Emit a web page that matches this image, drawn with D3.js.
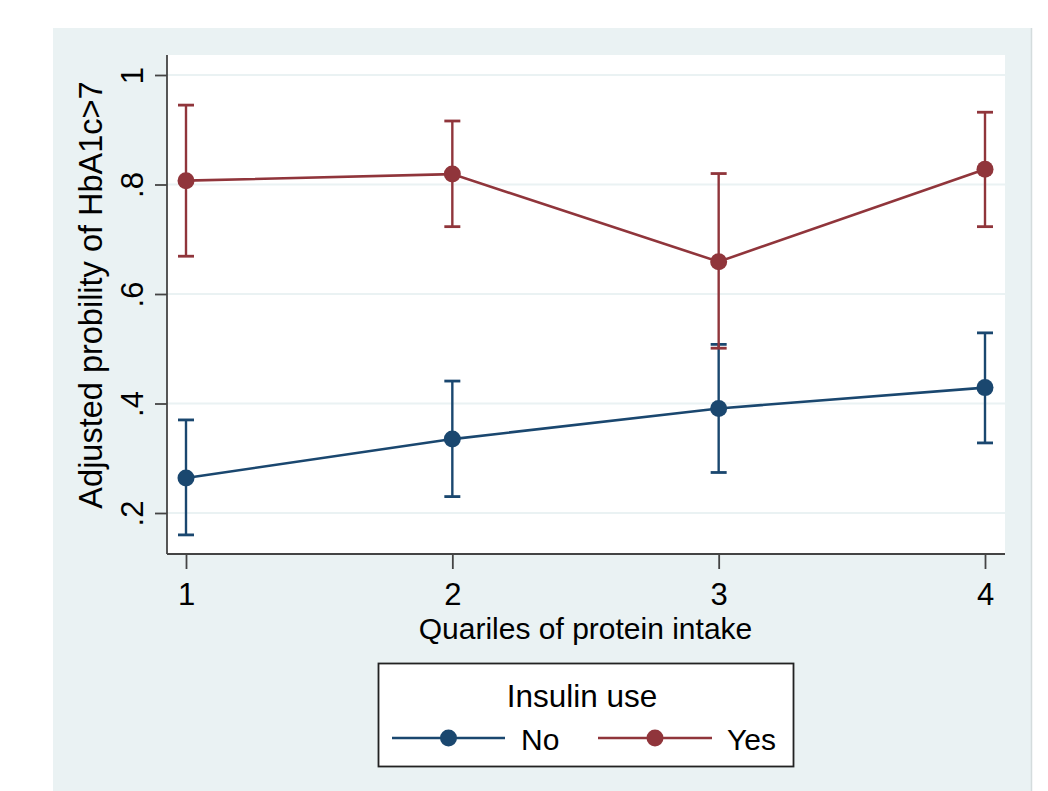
<!DOCTYPE html>
<html>
<head>
<meta charset="utf-8">
<script src="https://cdn.jsdelivr.net/npm/d3@7"></script>
<style>
  body { margin: 0; background: #fff; }
  svg text { font-family: "Liberation Sans", Arial, sans-serif; fill: #000; }
</style>
</head>
<body>
<div id="chart"></div>
<script>
/* Adjusted probability of HbA1c>7 by protein intake quartile, split by insulin use */

const quartiles = [1, 2, 3, 4];
const yTicks = [0.2, 0.4, 0.6, 0.8, 1];
const yTickLabels = [".2", ".4", ".6", ".8", "1"];

// Insulin use = No
const noEst = [0.264, 0.335, 0.391, 0.429];
const noLo  = [0.160, 0.230, 0.274, 0.328];
const noHi  = [0.370, 0.441, 0.508, 0.529];

// Insulin use = Yes
const yesEst = [0.807, 0.819, 0.659, 0.828];
const yesLo  = [0.669, 0.723, 0.501, 0.723];
const yesHi  = [0.945, 0.916, 0.820, 0.932];

const seriesNames = ["No", "Yes"];

const width = 1048, height = 791;
const plot = { left: 167, right: 1005, top: 55, bottom: 554 };
const bg = "#eaf2f3",
    blue = "#1a476f",
    red = "#90353b";

const svg = d3.select("#chart")
    .append("svg")
    .attr("width", width)
    .attr("height", height);

// graph region (light blue-grey panel)
svg.append("rect")
    .attr("x", 53).attr("y", 28)
    .attr("width", 978).attr("height", height - 28)
    .attr("fill", bg);
svg.append("line")
    .attr("x1", 1031.5).attr("x2", 1031.5)
    .attr("y1", 28).attr("y2", height)
    .attr("stroke", "#d4dcdd").attr("stroke-width", 1.5);

// plot region
svg.append("rect")
    .attr("x", plot.left).attr("y", plot.top)
    .attr("width", plot.right - plot.left)
    .attr("height", plot.bottom - plot.top)
    .attr("fill", "#fff");

const x = d3.scaleLinear()
    .domain([1, 4])
    .range([186, 985]);

const y = d3.scaleLinear()
    .domain([0.2, 1])
    .range([513, 75]);

// gridlines
svg.append("g")
    .selectAll("line")
    .data(yTicks)
    .join("line")
    .attr("x1", plot.left).attr("x2", plot.right)
    .attr("y1", d => y(d)).attr("y2", d => y(d))
    .attr("stroke", bg)
    .attr("stroke-width", 2);

// y axis
const yAxis = svg.append("g")
    .attr("transform", `translate(${plot.left},0)`)
    .call(d3.axisLeft(y).tickValues(yTicks).tickSize(12).tickSizeOuter(0)
        .tickFormat((d, i) => yTickLabels[i]));
yAxis.select(".domain").remove();
yAxis.selectAll(".tick line").attr("stroke", "#444").attr("stroke-width", 1.8);
yAxis.selectAll(".tick text")
    .attr("font-size", 31)
    .attr("text-anchor", "middle")
    .attr("x", 0).attr("dy", 0)
    .attr("transform", "translate(-24,0) rotate(-90)");

// x axis
const xAxis = svg.append("g")
    .attr("transform", `translate(0,${plot.bottom})`)
    .call(d3.axisBottom(x).tickValues(quartiles).tickSize(15).tickSizeOuter(0)
        .tickFormat(d3.format("d")));
xAxis.select(".domain").remove();
xAxis.selectAll(".tick line").attr("stroke", "#444").attr("stroke-width", 1.8);
xAxis.selectAll(".tick text")
    .attr("font-size", 31)
    .attr("y", 51).attr("dy", 0);

// axis lines
svg.append("line")
    .attr("x1", plot.left).attr("x2", plot.left)
    .attr("y1", plot.top).attr("y2", plot.bottom)
    .attr("stroke", "#444").attr("stroke-width", 1.8);
svg.append("line")
    .attr("x1", plot.left).attr("x2", plot.right)
    .attr("y1", plot.bottom).attr("y2", plot.bottom)
    .attr("stroke", "#444").attr("stroke-width", 1.8);

// axis titles
svg.append("text")
    .attr("x", (186 + 985) / 2)
    .attr("y", 639)
    .attr("text-anchor", "middle")
    .attr("font-size", 30)
    .text("Quariles of protein intake");

svg.append("text")
    .attr("transform", "translate(102,295) rotate(-90)")
    .attr("text-anchor", "middle")
    .attr("font-size", 32.5)
    .text("Adjusted probility of HbA1c>7");

// series
const series = [
    { name: seriesNames[0], est: noEst, lo: noLo, hi: noHi, color: blue },
    { name: seriesNames[1], est: yesEst, lo: yesLo, hi: yesHi, color: red }
];

const line = d3.line()
    .x(d => x(d.q))
    .y(d => y(d.v));

for (const s of series) {
    const pts = quartiles.map((q, i) => ({ q: q, v: s.est[i], lo: s.lo[i], hi: s.hi[i] }));
    const g = svg.append("g");

    // error bars
    g.selectAll("line.ci")
        .data(pts)
        .join("line")
        .attr("class", "ci")
        .attr("x1", d => x(d.q)).attr("x2", d => x(d.q))
        .attr("y1", d => y(d.lo)).attr("y2", d => y(d.hi))
        .attr("stroke", s.color).attr("stroke-width", 2.4);
    g.selectAll("line.caphi")
        .data(pts)
        .join("line")
        .attr("class", "caphi")
        .attr("x1", d => x(d.q) - 8).attr("x2", d => x(d.q) + 8)
        .attr("y1", d => y(d.hi)).attr("y2", d => y(d.hi))
        .attr("stroke", s.color).attr("stroke-width", 2.8);
    g.selectAll("line.caplo")
        .data(pts)
        .join("line")
        .attr("class", "caplo")
        .attr("x1", d => x(d.q) - 8).attr("x2", d => x(d.q) + 8)
        .attr("y1", d => y(d.lo)).attr("y2", d => y(d.lo))
        .attr("stroke", s.color).attr("stroke-width", 2.8);

    g.append("path")
        .datum(pts)
        .attr("d", line)
        .attr("fill", "none")
        .attr("stroke", s.color)
        .attr("stroke-width", 2.6);

    g.selectAll("circle")
        .data(pts)
        .join("circle")
        .attr("cx", d => x(d.q))
        .attr("cy", d => y(d.v))
        .attr("r", 8.5)
        .attr("fill", s.color);
}

// legend
const legend = svg.append("g");
legend.append("rect")
    .attr("x", 378.5).attr("y", 663.5)
    .attr("width", 415).attr("height", 103)
    .attr("fill", "#fff")
    .attr("stroke", "#222").attr("stroke-width", 1.8);
legend.append("text")
    .attr("x", 582).attr("y", 707)
    .attr("text-anchor", "middle")
    .attr("font-size", 31.5)
    .text("Insulin use");

const legendItems = [
    { x0: 392, x1: 505, tx: 521 },
    { x0: 598, x1: 712, tx: 727 }
];
series.forEach((s, i) => {
    const it = legendItems[i];
    legend.append("line")
        .attr("x1", it.x0).attr("x2", it.x1)
        .attr("y1", 738).attr("y2", 738)
        .attr("stroke", s.color).attr("stroke-width", 2.6);
    legend.append("circle")
        .attr("cx", (it.x0 + it.x1) / 2).attr("cy", 738)
        .attr("r", 8.5).attr("fill", s.color);
    legend.append("text")
        .attr("x", it.tx).attr("y", 750)
        .attr("font-size", 30)
        .text(s.name);
});
</script>
</body>
</html>
